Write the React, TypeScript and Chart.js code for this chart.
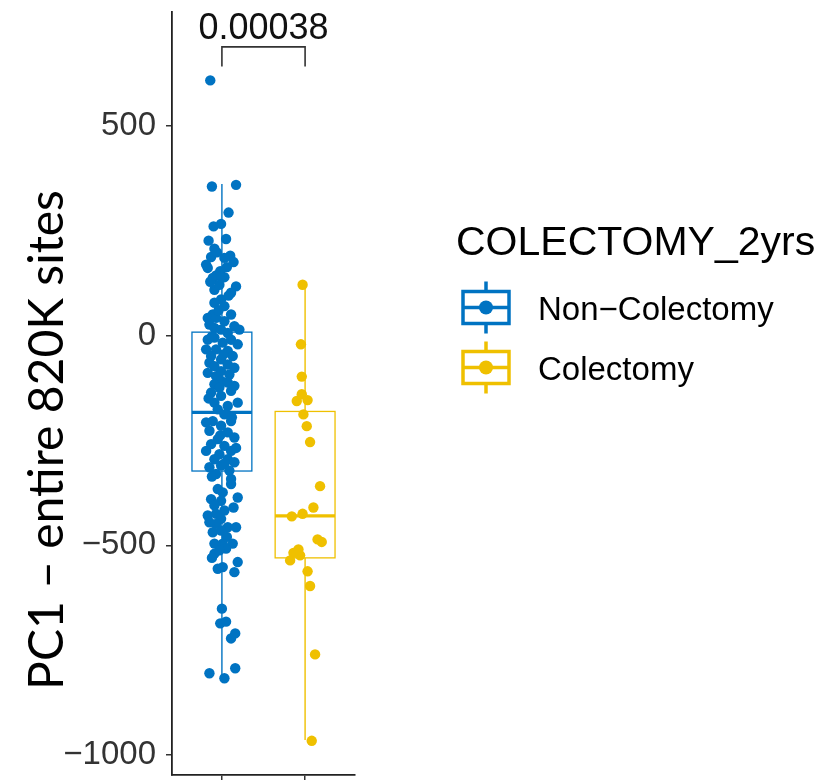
import React, { useEffect, useRef } from 'react';
import { Chart, registerables } from 'chart.js';

Chart.register(...registerables);

// ---- data ----
const groups = ['Non\u2212Colectomy', 'Colectomy'];
const groupColors = ['#0073C2', '#EFC000'];
const yTicks = [-1000, -500, 0, 500];
const pValueLabel = '0.00038';
const legendTitle = 'COLECTOMY_2yrs';
const yAxisTitle = 'PC1 \u2013 entire 820K sites';

// [lower whisker, Q1, median, Q3, upper whisker]
const nonColBox = [-817, -323, -183, 8, 361];
const colBox = [-964, -530, -430, -181, 121];

const nonColValues = [
  355, 359, 293, 260, 266, 226, 207, 187, 190, 185, 169, 161, 163, 143, 153, 139,
  137, 141, 109, 121, 117, 102, 86, 78, 70, 50, 42, 42, 50, 34, 22, 26, 18, 14, 14, 6,
  -10, -5, -10, -17, -21, -33, -33, -37, -49, -49, -57, -65, -69, -73, -77, -85, -89, -93, -97, -108,
  -116, -112, -124, -136, -132, -144, -160, -160, -168, -176, -188, -207, -204, -204, -215, -227,
  -231, -243, -247, -259, -263, -275, -275, -283, -295, -295, -302, -314, -310, -322, -330, -342,
  -354, -374, -390, -386, -394, -405, -417, -429, -425, -437, -449, -457, -457, -469, -465, -496,
  -496, -496, -508, -520, -512, -540, -556, -564, -552,
  -651, -686, -682, -722, -710, -805, -793, -817, 608,
  230, 198, 175, 128, 95, 60, -2, -45, -120, -150, -195, -238, -268, -305, -336, -366, -410, -445, -480, -530,
];
const nonColJitter = [
  -0.12, 0.17, 0.08, -0.10, -0.01, -0.16, -0.09, -0.13, 0.10, 0.03, -0.19, -0.17, 0.06, -0.07, -0.02, 0.03,
  -0.11, -0.01, -0.09, -0.03, 0.17, 0.11, -0.01, -0.09, 0.03, -0.11, -0.17, -0.07, 0.11, 0.03, 0.15, -0.15, -0.09, -0.01, 0.21, 0.07,
  -0.17, -0.09, 0.11, 0.01, 0.19, -0.19, -0.07, 0.07, -0.13, 0.13, -0.01, -0.15, 0.07, -0.09, 0.15, -0.01, -0.17, 0.09, -0.07, -0.01,
  -0.09, 0.07, -0.03, -0.13, 0.11, -0.01, 0.19, -0.09, 0.07, -0.05, 0.03, -0.19, -0.11, 0.11, -0.01, -0.15,
  0.07, 0.15, -0.05, -0.13, 0.03, -0.19, 0.11, -0.03, -0.09, 0.07, 0.15, -0.15, -0.01, 0.09, -0.07, 0.11,
  0.11, 0.01, -0.13, 0.19, -0.01, -0.09, 0.03, -0.17, -0.07, -0.01, -0.07, 0.07, 0.17, -0.11, -0.01, -0.09,
  0.01, 0.13, 0.05, -0.09, -0.03, 0.19, -0.05, 0.15, 0.01,
  0.00, -0.02, 0.05, 0.11, 0.16, -0.15, 0.16, 0.03, -0.14,
  0.05, -0.06, 0.14, -0.14, 0.08, -0.04, -0.12, 0.02, 0.15, -0.16, 0.12, -0.02, 0.17, 0.03, -0.12, -0.05, 0.14, -0.15, 0.06, -0.12,
];

const colValues = [
  121, -21, -98, -140, -156, -154, -188, -216, -254, -359, -410, -425, -431, -486, -492, -510,
  -518, -536, -524, -562, -597, -760, -966,
];
const colJitter = [
  -0.03, -0.05, -0.04, -0.04, -0.10, 0.03, -0.02, 0.02, 0.06, 0.18, 0.10, -0.03, -0.16, 0.15, 0.20, -0.08,
  -0.14, -0.18, -0.06, 0.03, 0.06, 0.12, 0.08,
];

const boxes = [nonColBox, colBox];
const BOX_WIDTH = 0.72;

const fmt = (v: number) => (v < 0 ? '\u2212' + Math.abs(v) : String(v));

const boxPlugin = {
  id: 'boxes',
  beforeDatasetsDraw(chart: any) {
    const { ctx, scales } = chart;
    const xs = scales.x;
    const ys = scales.y;
    boxes.forEach((b, i) => {
      const cx = xs.getPixelForValue(i + 1);
      const left = xs.getPixelForValue(i + 1 - BOX_WIDTH / 2);
      const right = xs.getPixelForValue(i + 1 + BOX_WIDTH / 2);
      const [lo, q1, med, q3, hi] = b.map((v) => ys.getPixelForValue(v));
      ctx.save();
      ctx.strokeStyle = groupColors[i];
      ctx.lineWidth = 1.4;
      ctx.beginPath();
      ctx.moveTo(cx, hi);
      ctx.lineTo(cx, q3);
      ctx.moveTo(cx, q1);
      ctx.lineTo(cx, lo);
      ctx.stroke();
      ctx.fillStyle = '#ffffff';
      ctx.fillRect(left, q3, right - left, q1 - q3);
      ctx.lineWidth = 1.3;
      ctx.strokeRect(left, q3, right - left, q1 - q3);
      ctx.lineWidth = 3.2;
      ctx.beginPath();
      ctx.moveTo(left, med);
      ctx.lineTo(right, med);
      ctx.stroke();
      ctx.restore();
    });
  },
};

const annotationPlugin = {
  id: 'annotations',
  afterDraw(chart: any) {
    const { ctx, scales } = chart;
    const xs = scales.x;
    const ys = scales.y;
    ctx.save();
    // significance bracket
    const x1 = xs.getPixelForValue(1);
    const x2 = xs.getPixelForValue(2);
    const yb = ys.getPixelForValue(688);
    const yt = ys.getPixelForValue(641);
    ctx.strokeStyle = '#333333';
    ctx.lineWidth = 1.6;
    ctx.beginPath();
    ctx.moveTo(x1, yt);
    ctx.lineTo(x1, yb);
    ctx.lineTo(x2, yb);
    ctx.lineTo(x2, yt);
    ctx.stroke();
    ctx.fillStyle = '#111111';
    ctx.font = '36px "Liberation Sans", Arial, sans-serif';
    ctx.textAlign = 'center';
    ctx.textBaseline = 'alphabetic';
    ctx.fillText(pValueLabel, (x1 + x2) / 2, 39);

    // y-axis title
    ctx.save();
    ctx.translate(48, 440);
    ctx.rotate(-Math.PI / 2);
    ctx.font = '48px Lato, "Open Sans", sans-serif';
    ctx.textAlign = 'center';
    ctx.textBaseline = 'middle';
    ctx.fillStyle = '#000000';
    ctx.fillText(yAxisTitle, 0, 0);
    ctx.restore();

    // legend
    ctx.textAlign = 'left';
    ctx.textBaseline = 'alphabetic';
    ctx.fillStyle = '#000000';
    ctx.font = '41px "Liberation Sans", Arial, sans-serif';
    ctx.fillText(legendTitle, 456, 255);
    ctx.font = '33px "Liberation Sans", Arial, sans-serif';
    const rows = [307.5, 367.5];
    groups.forEach((g, i) => {
      const cy = rows[i];
      const c = groupColors[i];
      ctx.strokeStyle = c;
      ctx.fillStyle = c;
      ctx.lineWidth = 3.5;
      ctx.beginPath();
      ctx.moveTo(486, cy - 26);
      ctx.lineTo(486, cy - 17);
      ctx.moveTo(486, cy + 17);
      ctx.lineTo(486, cy + 26);
      ctx.stroke();
      ctx.strokeRect(463, cy - 16, 46, 32);
      ctx.beginPath();
      ctx.moveTo(463, cy);
      ctx.lineTo(509, cy);
      ctx.stroke();
      ctx.beginPath();
      ctx.arc(486, cy, 7, 0, Math.PI * 2);
      ctx.fill();
      ctx.fillStyle = '#000000';
      ctx.fillText(g, 538, cy + 12);
    });
    ctx.restore();
  },
};

export default function App() {
  const ref = useRef<HTMLCanvasElement | null>(null);
  useEffect(() => {
    if (!ref.current) return;
    const chart = new Chart(ref.current, {
      type: 'scatter',
      data: {
        datasets: [
          {
            label: groups[0],
            data: nonColValues.map((v, i) => ({ x: 1 + nonColJitter[i], y: v })),
            backgroundColor: groupColors[0],
            borderWidth: 0,
            pointRadius: 5.2,
          },
          {
            label: groups[1],
            data: colValues.map((v, i) => ({ x: 2 + colJitter[i], y: v })),
            backgroundColor: groupColors[1],
            borderWidth: 0,
            pointRadius: 5.2,
          },
        ],
      },
      options: {
        animation: false,
        responsive: false,
        events: [],
        layout: { padding: { left: 0, right: 476, top: 12, bottom: 0 } },
        plugins: { legend: { display: false }, tooltip: { enabled: false } },
        scales: {
          x: {
            type: 'linear',
            min: 0.4,
            max: 2.6,
            afterBuildTicks: (s: any) => {
              s.ticks = [{ value: 1 }, { value: 2 }];
            },
            afterFit: (s: any) => {
              s.height = 3;
              s.paddingLeft = 0;
              s.paddingRight = 0;
              s.paddingTop = 0;
              s.paddingBottom = 0;
            },
            ticks: { display: false },
            grid: { drawOnChartArea: false, drawTicks: true, tickLength: 6, color: '#333333', lineWidth: 1.5 },
            border: { display: true, color: '#222222', width: 1.8 },
          },
          y: {
            type: 'linear',
            min: -1047,
            max: 771,
            afterBuildTicks: (s: any) => {
              s.ticks = yTicks.map((v) => ({ value: v }));
            },
            afterFit: (s: any) => {
              s.width = 172;
              s.paddingLeft = 0;
              s.paddingRight = 0;
              s.paddingTop = 0;
              s.paddingBottom = 0;
            },
            ticks: {
              callback: (v: any) => fmt(Number(v)),
              font: { family: '"Liberation Sans", Arial, sans-serif', size: 33 },
              color: '#333333',
              padding: 10,
            },
            grid: { drawOnChartArea: false, drawTicks: true, tickLength: 6, color: '#333333', lineWidth: 1.5 },
            border: { display: true, color: '#222222', width: 1.8 },
          },
        },
      },
      plugins: [boxPlugin, annotationPlugin],
    } as any);
    return () => chart.destroy();
  }, []);
  return (
    <div style={{ position: 'absolute', left: 0, top: 0, width: 831, height: 780, background: '#ffffff' }}>
      <canvas ref={ref} width={831} height={780} style={{ display: 'block' }} />
    </div>
  );
}
